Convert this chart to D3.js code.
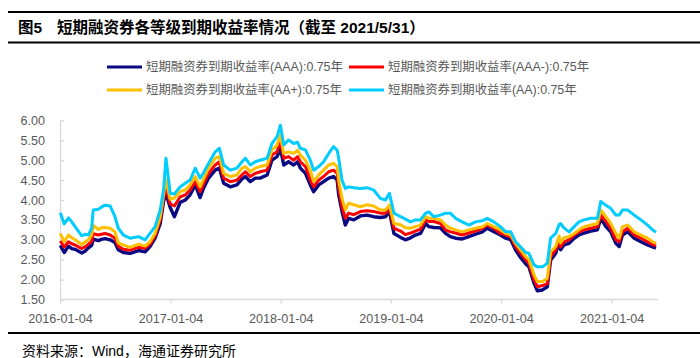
<!DOCTYPE html>
<html><head><meta charset="utf-8">
<script src="https://cdn.jsdelivr.net/npm/d3@7"></script>
<style>
body{margin:0;background:#fff;}
svg{display:block;font-family:"Liberation Sans",Arial,"Noto Sans CJK SC",sans-serif;}
</style></head><body>
<svg id="c" width="700" height="358"></svg>
<script>
const dates = ["2016-01-05","2016-01-18","2016-02-01","2016-02-12","2016-02-23","2016-03-16","2016-03-28","2016-04-07","2016-04-18","2016-04-23","2016-05-10","2016-05-20","2016-06-01","2016-06-18","2016-07-04","2016-07-15","2016-08-01","2016-08-23","2016-09-20","2016-10-12","2016-10-28","2016-11-14","2016-12-01","2016-12-12","2016-12-20",
"2017-01-03","2017-01-17","2017-02-05","2017-02-22","2017-03-10","2017-03-27","2017-04-12","2017-04-23","2017-05-10","2017-06-01","2017-06-15","2017-06-29","2017-07-21","2017-08-12","2017-08-29","2017-09-09","2017-09-25","2017-10-12","2017-10-28","2017-11-20","2017-12-06","2017-12-23",
"2018-01-03","2018-01-14","2018-01-30","2018-02-16","2018-03-01","2018-03-10","2018-03-27","2018-04-12","2018-04-23","2018-05-10","2018-05-26","2018-06-12","2018-06-28","2018-07-10","2018-07-15","2018-07-26","2018-08-06","2018-08-17","2018-09-03","2018-09-25","2018-10-17","2018-11-08","2018-11-30","2018-12-17","2018-12-30",
"2019-01-14","2019-02-05","2019-02-21","2019-03-10","2019-03-26","2019-04-12","2019-04-29","2019-05-10","2019-05-26","2019-06-17","2019-07-04","2019-07-20","2019-08-06","2019-08-28","2019-09-19","2019-10-11","2019-11-03","2019-11-19","2019-12-11",
"2020-01-02","2020-01-19","2020-02-05","2020-02-21","2020-03-09","2020-03-25","2020-04-05","2020-04-22","2020-05-03","2020-05-20","2020-06-05","2020-06-16","2020-07-03","2020-07-14","2020-07-19","2020-07-30","2020-08-16","2020-09-02","2020-09-18","2020-10-05","2020-10-27","2020-11-18","2020-11-29","2020-12-16",
"2021-01-01","2021-01-18","2021-01-29","2021-02-09","2021-02-26","2021-03-20","2021-04-11","2021-05-03","2021-05-20","2021-05-31"];

const aaa = [2.86,2.68,2.84,2.78,2.76,2.67,2.72,2.80,2.86,3.02,2.98,3.01,3.03,3.00,2.93,2.75,2.68,2.66,2.73,2.70,2.83,3.04,3.41,3.96,4.17,
3.81,3.58,3.94,4.00,4.13,4.38,4.06,4.29,4.55,4.75,4.80,4.42,4.33,4.38,4.53,4.59,4.46,4.55,4.55,4.63,5.00,5.09,
5.30,4.88,4.96,4.88,4.96,4.80,4.67,4.38,4.21,4.38,4.46,4.55,4.59,4.50,4.13,3.71,3.37,3.54,3.50,3.60,3.62,3.58,3.56,3.58,3.71,
3.16,3.06,3.00,3.05,3.12,3.16,3.41,3.33,3.31,3.30,3.16,3.08,3.04,3.02,3.08,3.14,3.20,3.29,3.20,
3.12,3.04,3.00,2.74,2.55,2.40,2.32,1.91,1.72,1.74,1.82,2.49,2.66,2.95,2.75,2.87,2.91,3.04,3.12,3.17,3.22,3.25,3.54,3.33,
3.20,2.91,2.83,3.12,3.20,3.04,2.95,2.87,2.82,2.79];

const aaaMinus = [2.97,2.82,2.95,2.90,2.87,2.78,2.83,2.89,2.96,3.15,3.12,3.14,3.16,3.12,3.04,2.84,2.76,2.74,2.81,2.79,2.89,3.10,3.50,4.04,4.33,
3.90,3.85,4.08,4.13,4.25,4.46,4.21,4.40,4.67,4.88,4.96,4.55,4.46,4.50,4.63,4.71,4.59,4.67,4.71,4.75,5.13,5.21,
5.51,5.05,5.09,5.00,5.09,4.96,4.84,4.50,4.33,4.50,4.59,4.71,4.75,4.67,4.30,3.83,3.54,3.67,3.63,3.71,3.73,3.71,3.67,3.67,3.80,
3.29,3.22,3.13,3.17,3.22,3.27,3.50,3.46,3.46,3.41,3.25,3.20,3.17,3.12,3.17,3.22,3.29,3.37,3.29,
3.16,3.12,3.08,2.83,2.66,2.50,2.41,2.00,1.82,1.85,1.90,2.58,2.75,3.00,2.82,2.95,3.00,3.12,3.20,3.25,3.29,3.33,3.62,3.46,
3.29,3.00,2.95,3.20,3.29,3.12,3.04,2.95,2.88,2.85];

const aaPlus = [3.16,2.95,3.12,3.05,3.00,2.88,2.95,3.00,3.12,3.36,3.26,3.30,3.31,3.29,3.20,2.92,2.87,2.81,2.89,2.84,2.95,3.16,3.58,4.13,4.50,
4.02,4.05,4.21,4.25,4.38,4.59,4.33,4.52,4.80,5.05,5.09,4.67,4.59,4.63,4.80,4.84,4.71,4.80,4.84,4.88,5.26,5.38,
5.63,5.17,5.21,5.17,5.25,5.13,5.00,4.75,4.46,4.63,4.75,4.88,4.92,4.84,4.50,4.04,3.75,3.92,3.88,3.83,3.88,3.85,3.75,3.75,3.87,
3.41,3.38,3.30,3.29,3.33,3.37,3.58,3.54,3.54,3.50,3.37,3.29,3.25,3.20,3.25,3.29,3.33,3.41,3.33,
3.25,3.16,3.12,2.91,2.74,2.58,2.50,2.12,1.95,1.95,2.03,2.70,2.83,3.10,2.92,3.05,3.08,3.16,3.25,3.33,3.37,3.41,3.75,3.58,
3.41,3.16,3.04,3.33,3.37,3.20,3.12,3.04,2.95,2.91];

const aa = [3.68,3.40,3.55,3.45,3.33,3.10,3.14,3.12,3.30,3.75,3.77,3.82,3.87,3.85,3.58,3.29,3.12,3.04,3.08,3.00,3.16,3.33,3.75,4.25,5.05,
4.17,4.15,4.33,4.42,4.50,4.80,4.55,4.68,4.92,5.21,5.30,4.88,4.75,4.80,4.96,5.05,4.88,4.96,5.00,5.05,5.42,5.59,
5.88,5.38,5.51,5.42,5.45,5.30,5.26,5.00,4.75,4.84,4.96,5.17,5.34,5.25,5.05,4.50,4.29,4.33,4.31,4.29,4.31,4.25,4.04,4.00,4.17,
3.67,3.58,3.52,3.45,3.50,3.50,3.67,3.70,3.58,3.62,3.67,3.67,3.54,3.45,3.37,3.45,3.48,3.54,3.45,
3.33,3.20,3.20,2.95,2.82,2.68,2.66,2.37,2.32,2.32,2.41,3.04,3.16,3.38,3.41,3.30,3.20,3.33,3.45,3.50,3.54,3.54,3.96,3.87,
3.79,3.62,3.62,3.75,3.75,3.62,3.50,3.37,3.25,3.19];

const seriesNames = ["短期融资券到期收益率(AAA):0.75年","短期融资券到期收益率(AAA-):0.75年","短期融资券到期收益率(AA+):0.75年","短期融资券到期收益率(AA):0.75年"];
const seriesColors = ["#0A0A82","#FF0000","#FFC000","#00CCFF"];
const yTicks = [1.5,2.0,2.5,3.0,3.5,4.0,4.5,5.0,5.5,6.0];
const xTickLabels = ["2016-01-04","2017-01-04","2018-01-04","2019-01-04","2020-01-04","2021-01-04"];
const titleLabel = "图5";
const titleText = "短期融资券各等级到期收益率情况（截至 2021/5/31）";
const sourceText = "资料来源：Wind，海通证券研究所";

const parse = d3.timeParse("%Y-%m-%d");
const svg = d3.select("#c");

// title block
svg.append("line").attr("x1",8).attr("x2",700).attr("y1",12).attr("y2",12).attr("stroke","#000").attr("stroke-width",2);
svg.append("line").attr("x1",8).attr("x2",700).attr("y1",42.5).attr("y2",42.5).attr("stroke","#000").attr("stroke-width",2);
svg.append("text").attr("x",18).attr("y",33).attr("font-size",15.5).attr("font-weight","bold")
  .attr("font-family","'Liberation Sans','Noto Sans CJK SC',sans-serif").attr("fill","#000").text(titleLabel);
svg.append("text").attr("x",57).attr("y",33).attr("font-size",15.5).attr("font-weight","bold")
  .attr("font-family","'Liberation Sans','Noto Sans CJK SC',sans-serif").attr("fill","#000").text(titleText);

// footer
svg.append("line").attr("x1",8).attr("x2",700).attr("y1",333).attr("y2",333).attr("stroke","#000").attr("stroke-width",2);
svg.append("text").attr("x",22).attr("y",356).attr("font-size",14)
  .attr("font-family","'Liberation Sans','Noto Sans CJK SC',sans-serif").attr("fill","#000").text(sourceText);

const x = d3.scaleTime().domain([parse("2016-01-04"), parse("2021-05-31")]).range([60, 656]);
const y = d3.scaleLinear().domain([1.5, 6]).range([299.5, 120.4]);

const axisColor = "#D9D9D9", labelColor = "#595959";

const yAxis = svg.append("g").attr("transform","translate(60,0)")
  .call(d3.axisLeft(y).tickValues(yTicks).tickFormat(d3.format(".2f")).tickSize(-4).tickSizeOuter(0).tickPadding(15));
const xAxis = svg.append("g").attr("transform","translate(0,299.5)")
  .call(d3.axisBottom(x).tickValues(xTickLabels.map(parse)).tickFormat(d3.timeFormat("%Y-%m-%d")).tickSize(4).tickSizeOuter(0).tickPadding(11));
[yAxis, xAxis].forEach(g => {
  g.selectAll("path").attr("stroke", axisColor).attr("stroke-width",1.3);
  g.selectAll("line").attr("stroke", axisColor).attr("stroke-width",1.3);
  g.selectAll("text").attr("fill", labelColor).attr("font-size",12.6).attr("font-family","'Liberation Sans',Arial,sans-serif");
});
xAxis.select(".domain").attr("d","M60,0H658");

// lines
const allSeries = [aaa, aaaMinus, aaPlus, aa];
const line = d3.line().x((d,i)=>x(parse(dates[i]))).y(d=>y(d)).curve(d3.curveLinear);
allSeries.forEach((s,k)=>{
  svg.append("path").datum(s).attr("d", line).attr("fill","none")
    .attr("stroke", seriesColors[k]).attr("stroke-width", k===0 ? 3.4 : 3).attr("stroke-linejoin","round");
});

// legend
const legendPos = [[107,67],[349,67],[107,90],[349,90]];
seriesNames.forEach((n,k)=>{
  const [lx,ly] = legendPos[k];
  svg.append("line").attr("x1",lx).attr("x2",lx+35).attr("y1",ly).attr("y2",ly)
    .attr("stroke",seriesColors[k]).attr("stroke-width",3);
  svg.append("text").attr("x",lx+39).attr("y",ly+4.4).attr("font-size",12.4)
    .attr("font-family","'Liberation Sans','Noto Sans CJK SC',sans-serif").attr("fill",labelColor).text(n);
});
</script></body></html>
